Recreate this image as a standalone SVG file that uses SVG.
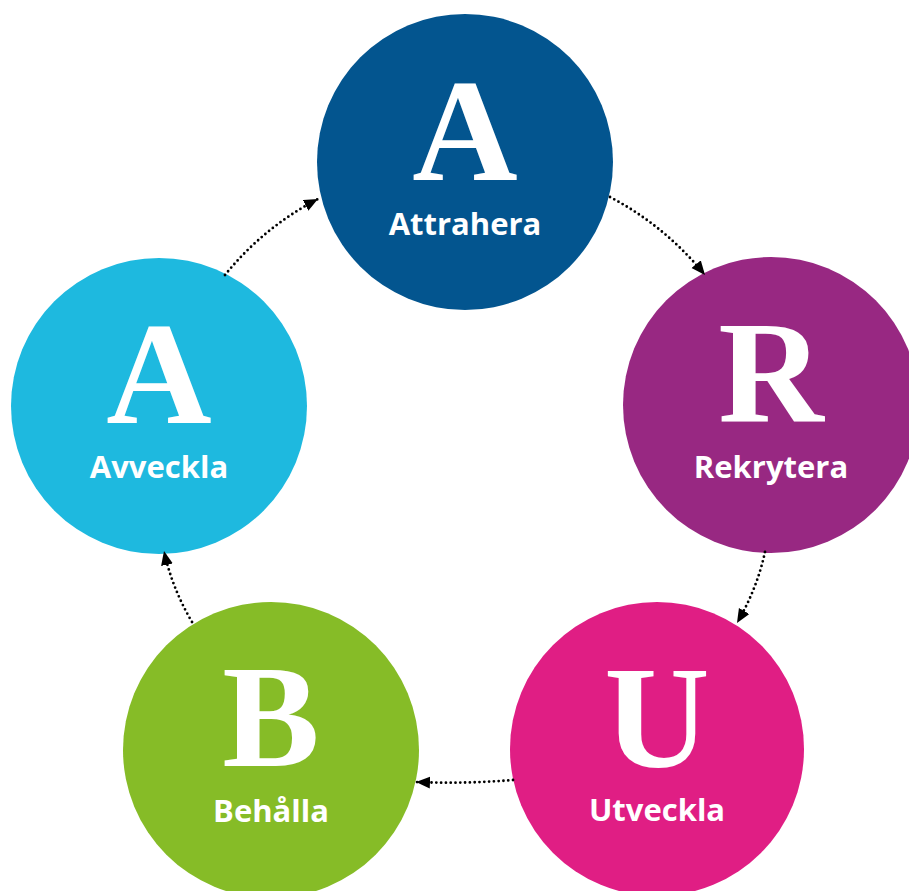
<svg xmlns="http://www.w3.org/2000/svg" width="909" height="891" viewBox="0 0 909 891">
<style>
.big{font-family:"Liberation Serif","Times New Roman",serif;font-weight:700;font-size:146px;fill:#fff;text-anchor:middle}
.lbl{font-family:"Open Sans","Noto Sans",sans-serif;font-weight:700;font-size:31px;fill:#fff;text-anchor:middle}
.con{fill:none;stroke:#000;stroke-width:2.8;stroke-linecap:round;stroke-dasharray:0 4.8}
</style>
<defs>
<marker id="ah" markerUnits="userSpaceOnUse" markerWidth="16" markerHeight="14" refX="14" refY="6" orient="auto">
<path d="M0,0 L14,6 L0,12 Z" fill="#000"/>
</marker>
</defs>
<rect width="909" height="891" fill="#fff"/>
<g id="attrahera">
<circle cx="465" cy="162" r="148" fill="#03558F"/>
<text class="big" x="465" y="180">A</text>
<text class="lbl" x="465" y="235">Attrahera</text>
</g>
<g id="rekrytera">
<circle cx="771" cy="405" r="148" fill="#982882"/>
<text class="big" x="771" y="422">R</text>
<text class="lbl" x="771" y="478">Rekrytera</text>
</g>
<g id="utveckla">
<circle cx="657" cy="749" r="147" fill="#E01E84"/>
<text class="big" x="657" y="767">U</text>
<text class="lbl" x="657" y="821">Utveckla</text>
</g>
<g id="behalla">
<circle cx="271" cy="750" r="148" fill="#86BC27"/>
<text class="big" x="271" y="766">B</text>
<text class="lbl" x="271" y="822">Behålla</text>
</g>
<g id="avveckla">
<circle cx="159" cy="406" r="148" fill="#1EB9DF"/>
<text class="big" x="159" y="423">A</text>
<text class="lbl" x="159" y="478">Avveckla</text>
</g>
<g id="connectors">
<path class="con" d="M610,197 Q665,226 705,275" marker-end="url(#ah)"/>
<path class="con" d="M765,552 Q757,589 737,623" marker-end="url(#ah)"/>
<path class="con" d="M513,780 Q465,784 416,782" marker-end="url(#ah)"/>
<path class="con" d="M192,622 Q172,588 164,551" marker-end="url(#ah)"/>
<path class="con" d="M225,275 Q264,227 318,199" marker-end="url(#ah)"/>
</g>
</svg>
